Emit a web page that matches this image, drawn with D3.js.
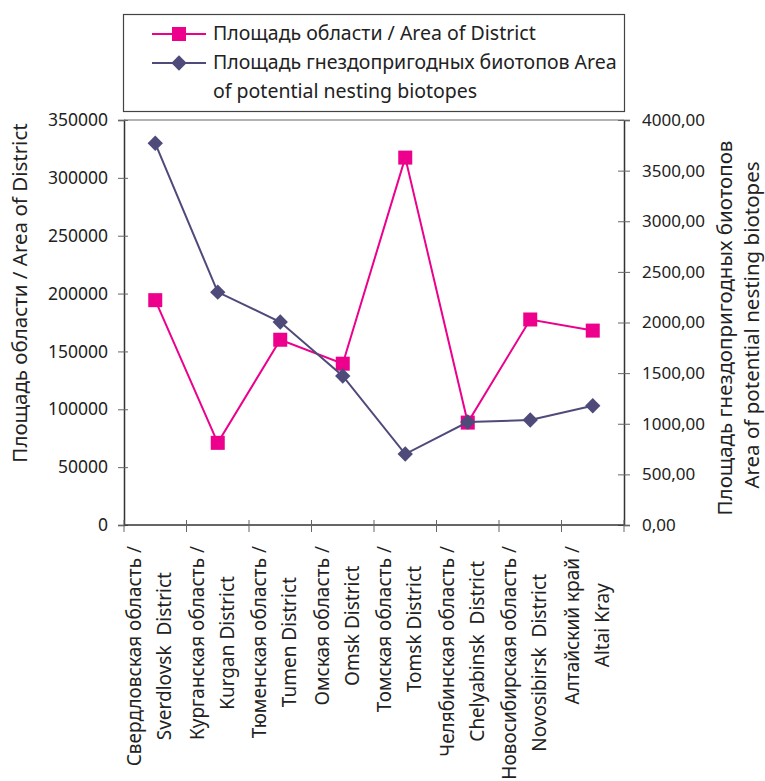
<!DOCTYPE html>
<html><head><meta charset="utf-8">
<script src="https://cdn.jsdelivr.net/npm/d3@7"></script>
<style>
body{margin:0;background:#fff;}
svg text{font-family:"Noto Sans",sans-serif;fill:#222;}
</style></head>
<body><svg id="c" width="765" height="781"></svg>
<script>
const categoriesRu = ["Свердловская область /","Курганская область /","Тюменская область /","Омская область /","Томская область /","Челябинская область /","Новосибирская область /","Алтайский край /"];
const categoriesEn = ["Sverdlovsk  District","Kurgan District","Tumen District","Omsk District","Tomsk District","Chelyabinsk  District","Novosibirsk  District","Altai Kray"];
const areaDistrict = [194300, 71000, 160100, 139400, 317500, 88500, 177600, 168000];
const areaBiotopes = [3770, 2300, 2005, 1472, 701, 1017, 1037, 1178];
const leftTicks = [0,50000,100000,150000,200000,250000,300000,350000];
const rightTicks = [0,500,1000,1500,2000,2500,3000,3500,4000];
const seriesNames = ["Площадь области / Area of District","Площадь гнездопригодных биотопов Area","of potential nesting biotopes"];
const leftTitle = "Площадь области / Area of District";
const rightTitle = ["Площадь гнездопригодных биотопов","Area of potential nesting biotopes"];

const PINK="#EC008C", PURPLE="#4E4A7A";
const svg=d3.select("#c");
const L=124,R=624,T=120,B=525;
const idx=d3.range(categoriesRu.length);
const x=d3.scaleBand().domain(idx).range([L,R]).padding(0);
const yL=d3.scaleLinear().domain([0,350000]).range([B,T]);
const yR=d3.scaleLinear().domain([0,4000]).range([B,T]);

// top border
svg.append("line").attr("x1",L).attr("x2",R).attr("y1",T).attr("y2",T).attr("stroke","#999").attr("stroke-width",1.5);

// left axis
const gl=svg.append("g").attr("transform",`translate(${L},0)`)
  .call(d3.axisLeft(yL).tickValues(leftTicks).tickFormat(d3.format("d")).tickSize(6).tickPadding(10));
gl.select(".domain").attr("stroke","#333").attr("stroke-width",1.5);
gl.selectAll(".tick line").attr("x1",4).attr("stroke","#666");
gl.selectAll(".tick text").style("font-size","17.5px").attr("fill","#222");

// right axis
const fmtR=d=>d3.format(".2f")(d).replace(".",",");
const gr=svg.append("g").attr("transform",`translate(${R},0)`)
  .call(d3.axisRight(yR).tickValues(rightTicks).tickFormat(fmtR).tickSize(6).tickPadding(12));
gr.select(".domain").attr("stroke","#333").attr("stroke-width",1.5);
gr.selectAll(".tick line").attr("x1",-6).attr("stroke","#666");
gr.selectAll(".tick text").style("font-size","17px").attr("fill","#222");

// bottom axis
const bounds=idx.map(i=>x(i)).concat([R]);
svg.append("line").attr("x1",L).attr("x2",R).attr("y1",B).attr("y2",B).attr("stroke","#333").attr("stroke-width",1.5);
svg.selectAll(".xt").data(bounds).enter().append("line")
  .attr("x1",d=>d).attr("x2",d=>d).attr("y1",B-5).attr("y2",B+7).attr("stroke","#666");

// x labels (rotated, two lines centered, block top at y=546)
const lab=svg.append("g");
idx.forEach(i=>{
  const cx=x(i)+x.bandwidth()/2;
  const t1=lab.append("text").text(categoriesRu[i]).style("font-size","19px").style("white-space","pre").attr("text-anchor","middle");
  const t2=lab.append("text").text(categoriesEn[i]).style("font-size","19px").style("white-space","pre").attr("text-anchor","middle");
  const w=Math.max(t1.node().getComputedTextLength(),t2.node().getComputedTextLength());
  const cy=546+w/2;
  t1.attr("transform",`translate(${cx-14},${cy}) rotate(-90)`);
  t2.attr("transform",`translate(${cx+16},${cy}) rotate(-90)`);
});

// axis titles
svg.append("text").text(leftTitle).style("font-size","20.5px").attr("text-anchor","middle")
  .attr("transform",`translate(27,293) rotate(-90)`);
svg.append("text").text(rightTitle[0]).style("font-size","20.5px").attr("text-anchor","middle")
  .attr("transform",`translate(732,328) rotate(-90)`);
svg.append("text").text(rightTitle[1]).style("font-size","20.5px").attr("text-anchor","middle")
  .attr("transform",`translate(759,325) rotate(-90)`);

// series
const cx=i=>x(i)+x.bandwidth()/2;
svg.append("path").datum(areaDistrict).attr("fill","none").attr("stroke",PINK).attr("stroke-width",2)
  .attr("d",d3.line().x((d,i)=>cx(i)).y(d=>yL(d)));
svg.selectAll(".sq").data(areaDistrict).enter().append("rect")
  .attr("x",(d,i)=>cx(i)-7).attr("y",d=>yL(d)-7).attr("width",14).attr("height",14).attr("fill",PINK);
svg.append("path").datum(areaBiotopes).attr("fill","none").attr("stroke",PURPLE).attr("stroke-width",2)
  .attr("d",d3.line().x((d,i)=>cx(i)).y(d=>yR(d)));
svg.selectAll(".dm").data(areaBiotopes).enter().append("path")
  .attr("d",d3.symbol(d3.symbolDiamond2,150)())
  .attr("transform",(d,i)=>`translate(${cx(i)},${yR(d)})`).attr("fill",PURPLE);

// legend
svg.append("rect").attr("x",123.5).attr("y",14.5).attr("width",501).attr("height",97)
  .attr("fill","#fff").attr("stroke","#444").attr("stroke-width",1.2);
const lg=svg.append("g");
lg.append("line").attr("x1",152).attr("x2",206).attr("y1",34).attr("y2",34).attr("stroke",PINK).attr("stroke-width",2);
lg.append("rect").attr("x",172).attr("y",27).attr("width",14).attr("height",14).attr("fill",PINK);
lg.append("line").attr("x1",152).attr("x2",206).attr("y1",63).attr("y2",63).attr("stroke",PURPLE).attr("stroke-width",2);
lg.append("path").attr("d",d3.symbol(d3.symbolDiamond2,150)()).attr("transform","translate(179,63)").attr("fill",PURPLE);
[34,63,92].forEach((yy,k)=>{
  lg.append("text").text(seriesNames[k]).attr("x",213).attr("y",yy+6).style("font-size","19.5px");
});
</script></body></html>
